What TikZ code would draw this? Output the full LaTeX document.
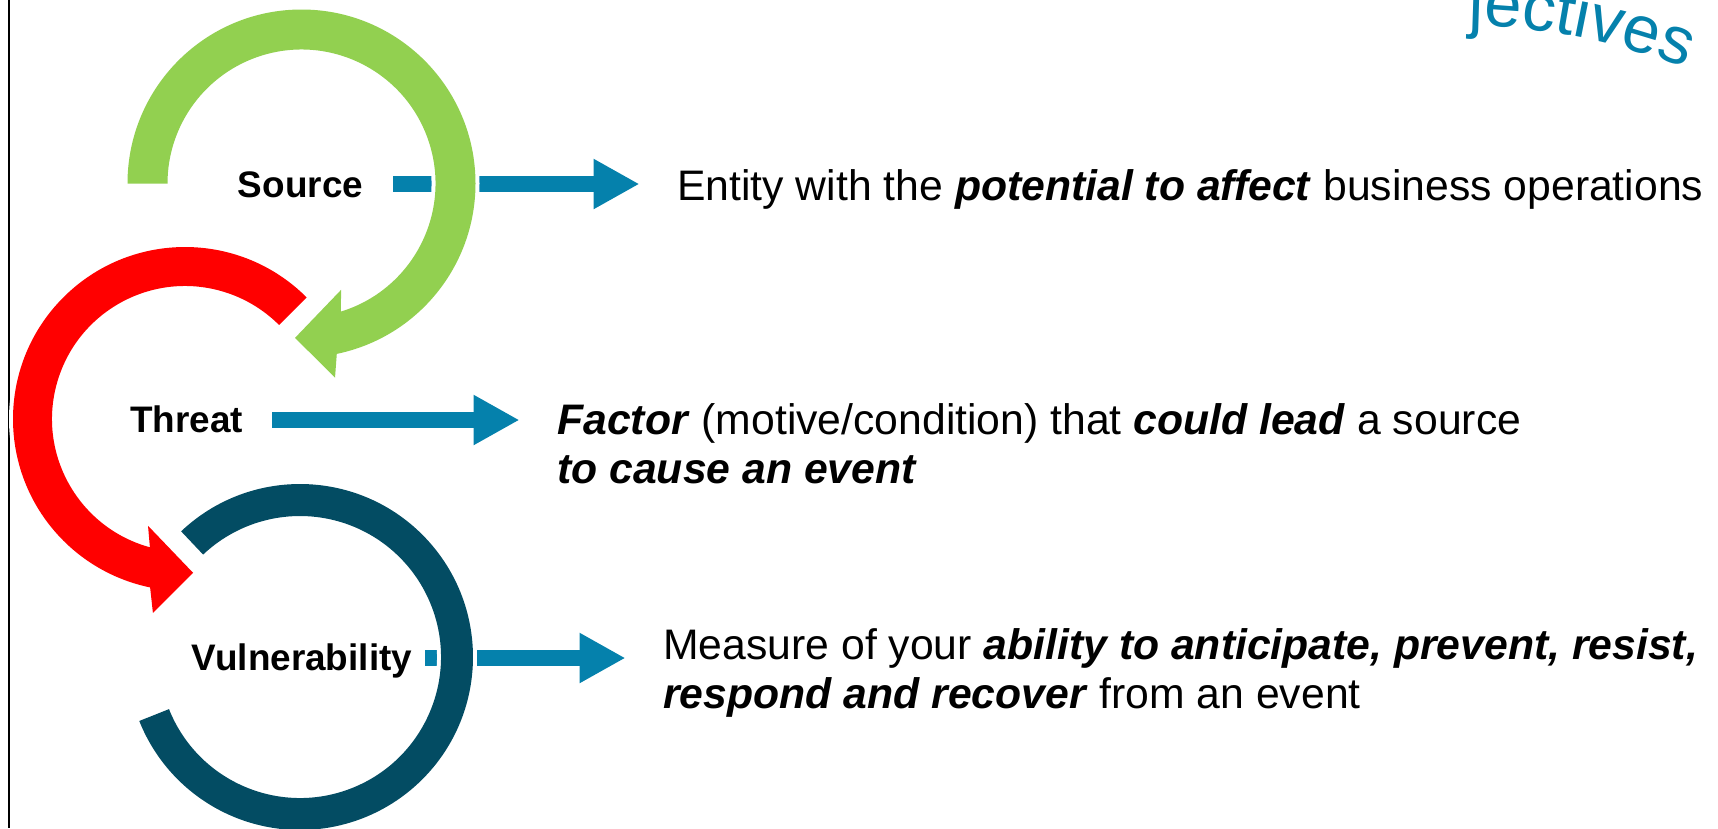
\documentclass[tikz,border=0pt]{standalone}
\usepackage{fontspec}
\setmainfont{Liberation Sans}
\usetikzlibrary{arrows.meta,decorations.text}

\definecolor{srcgreen}{HTML}{92D050}
\definecolor{thrred}{HTML}{FF0000}
\definecolor{vuldark}{HTML}{034C63}
\definecolor{infoblue}{HTML}{0581AC}

\begin{document}
\begin{tikzpicture}[
    term/.style={font=\fontsize{21}{25}\selectfont\bfseries, inner sep=0pt, anchor=base},
    meaning/.style={font=\fontsize{24.3}{27.5}\selectfont, inner sep=0pt, anchor=base west, align=left},
    infoarrow/.style={draw=infoblue, line width=0.32cm, -{Triangle[length=0.92cm,width=0.94cm]}, shorten >=0.75cm},
    ring/.style={preaction={draw=white, line width=0.16cm}}
  ]
      \useasboundingbox (0,0) rectangle (34.36,-16.56);
      \draw[line width=0.035cm] (0.18,0) -- (0.18,-16.56);

      % labels and their meanings
      \node[term] (src) at (6.01,-3.94) {Source};
      \node[term] (thr) at (3.73,-8.65) {Threat};
      \node[term] (vul) at (6.04,-13.41) {Vulnerability};

      % (two-line meanings sit on the baseline of their last line)
      \node[meaning] (srcD) at (13.54,-4.00) {Entity with the \textit{\textbf{potential to affect}} business operations};
      \node[meaning] (thrD) at (11.14,-9.66) {\textit{\textbf{Factor}} (motive/condition) that \textit{\textbf{could lead}} a source\\ \textit{\textbf{to cause an event}}};
      \node[meaning] (vulD) at (13.26,-14.16) {Measure of your \textit{\textbf{ability to anticipate, prevent, resist,}}\\ \textit{\textbf{respond and recover}} from an event};

      \coordinate (srcA) at (7.86,-3.68);
      \coordinate (thrA) at (5.44,-8.40);
      \coordinate (vulA) at (8.50,-13.16);

      \draw[infoarrow] (srcA) -- (srcA -| srcD.west);
      \draw[infoarrow] (thrA) -- (thrA -| thrD.west);
      \draw[infoarrow] (vulA) -- (vulA -| vulD.west);

      % the three rings
      \begin{scope}[shift={(6.03,-3.67)}]
        \fill[srcgreen, ring] (180:3.48) arc[start angle=180, end angle=-78.3, radius=3.48]
          -- (-80.2:3.94) -- (-92.4:3.09) -- (-69.6:2.27) -- (-72.9:2.68)
          arc[start angle=-72.9, end angle=180, radius=2.68] -- cycle;
      \end{scope}
      \begin{scope}[shift={(3.70,-8.38)}]
        \fill[thrred, ring] (45:3.44) arc[start angle=45, end angle=258.3, radius=3.44]
          -- (260.6:3.93) -- (273:3.08) -- (250.9:2.26) -- (254.7:2.66)
          arc[start angle=254.7, end angle=45, radius=2.66] -- cycle;
      \end{scope}
      \begin{scope}[shift={(6.00,-13.14)}]
        \fill[vuldark, ring] (133.4:3.46) arc[start angle=133.4, end angle=-158.3, radius=3.46]
          -- (-158.3:2.82) arc[start angle=-158.3, end angle=133.4, radius=2.82] -- cycle;
      \end{scope}

      % curved heading, cut by the top edge
      \path[decorate, decoration={text along path, text align=left,
          text={|\fontsize{38}{38}\selectfont\color{infoblue}|jectives}}]
        (29.13,-13.00) ++(88.9:12.5) arc[start angle=88.9, end angle=50, radius=12.5];
    \end{tikzpicture}
\end{document}
